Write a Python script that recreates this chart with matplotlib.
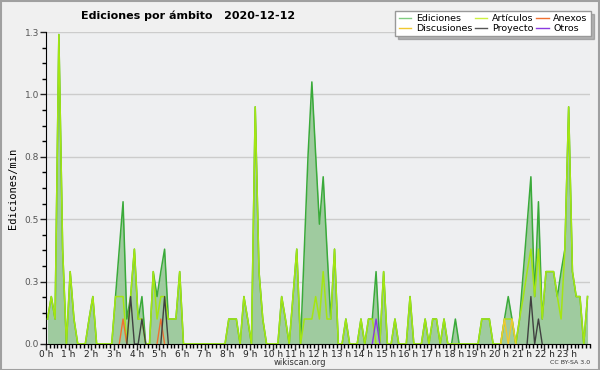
import numpy as np
import matplotlib
matplotlib.use('Agg')
import matplotlib.pyplot as plt
from matplotlib.lines import Line2D
from matplotlib.ticker import MultipleLocator, FuncFormatter

# ediciones por minuto, un punto cada 10 min (144 puntos)
minutos = np.arange(144) * 10 + 4

ediciones = [
    0.10, 0.19, 0.10, 1.24, 0.38, 0.00, 0.29, 0.10, 0.00, 0.00, 0.00, 0.10,
    0.19, 0.00, 0.00, 0.00, 0.00, 0.00, 0.19, 0.38, 0.57, 0.10, 0.19, 0.38,
    0.10, 0.19, 0.00, 0.00, 0.29, 0.19, 0.29, 0.38, 0.10, 0.10, 0.10, 0.29,
    0.00, 0.00, 0.00, 0.00, 0.00, 0.00, 0.00, 0.00, 0.00, 0.00, 0.00, 0.00,
    0.10, 0.10, 0.10, 0.00, 0.19, 0.10, 0.00, 0.95, 0.29, 0.10, 0.00, 0.00,
    0.00, 0.00, 0.19, 0.10, 0.00, 0.19, 0.38, 0.00, 0.38, 0.76, 1.05, 0.76,
    0.48, 0.67, 0.38, 0.10, 0.38, 0.00, 0.00, 0.10, 0.00, 0.00, 0.00, 0.10,
    0.00, 0.10, 0.10, 0.29, 0.00, 0.29, 0.00, 0.00, 0.10, 0.00, 0.00, 0.00,
    0.19, 0.00, 0.00, 0.00, 0.10, 0.00, 0.10, 0.10, 0.00, 0.10, 0.00, 0.00,
    0.10, 0.00, 0.00, 0.00, 0.00, 0.00, 0.00, 0.10, 0.10, 0.10, 0.00, 0.00,
    0.00, 0.10, 0.19, 0.10, 0.00, 0.10, 0.29, 0.48, 0.67, 0.19, 0.57, 0.10,
    0.29, 0.29, 0.29, 0.19, 0.29, 0.38, 0.95, 0.29, 0.19, 0.19, 0.00, 0.19,
]

articulos = [
    0.10, 0.19, 0.10, 1.24, 0.38, 0.00, 0.29, 0.10, 0.00, 0.00, 0.00, 0.10,
    0.19, 0.00, 0.00, 0.00, 0.00, 0.00, 0.19, 0.19, 0.19, 0.00, 0.19, 0.38,
    0.10, 0.10, 0.00, 0.00, 0.29, 0.10, 0.19, 0.19, 0.10, 0.10, 0.10, 0.29,
    0.00, 0.00, 0.00, 0.00, 0.00, 0.00, 0.00, 0.00, 0.00, 0.00, 0.00, 0.00,
    0.10, 0.10, 0.10, 0.00, 0.19, 0.10, 0.00, 0.95, 0.29, 0.10, 0.00, 0.00,
    0.00, 0.00, 0.19, 0.10, 0.00, 0.19, 0.38, 0.00, 0.10, 0.10, 0.10, 0.19,
    0.10, 0.29, 0.10, 0.10, 0.38, 0.00, 0.00, 0.10, 0.00, 0.00, 0.00, 0.10,
    0.00, 0.10, 0.10, 0.00, 0.00, 0.29, 0.00, 0.00, 0.10, 0.00, 0.00, 0.00,
    0.19, 0.00, 0.00, 0.00, 0.10, 0.00, 0.10, 0.10, 0.00, 0.10, 0.00, 0.00,
    0.00, 0.00, 0.00, 0.00, 0.00, 0.00, 0.00, 0.10, 0.10, 0.10, 0.00, 0.00,
    0.00, 0.10, 0.10, 0.10, 0.00, 0.10, 0.19, 0.29, 0.38, 0.19, 0.38, 0.10,
    0.29, 0.29, 0.29, 0.19, 0.10, 0.38, 0.95, 0.29, 0.19, 0.19, 0.00, 0.19,
]

# series pequenas: {indice de 10 min: valor}
anexos = {20: 0.10, 30: 0.10}
discusiones = {121: 0.10, 123: 0.10}
proyecto = {22: 0.19, 25: 0.10, 31: 0.19, 128: 0.19, 130: 0.10}
otros = {87: 0.10}

titulo = 'Ediciones por ámbito   2020-12-12'
etiquetas_h = ['%d h' % h for h in range(24)]

col_fill = '#9fcb9f'
col_ed = '#3aaa3a'
col_art = '#a4e612'
col_anx = '#f07030'
col_disc = '#f0c830'
col_proy = '#404040'
col_otros = '#8a3ae0'


def serie(d):
    v = np.zeros(144)
    for k, val in d.items():
        v[k] = val
    return v


horas = minutos / 60.0

fig = plt.figure(figsize=(6, 3.7), dpi=100, facecolor='#f0f0f0')
ax = fig.add_axes([0.0767, 0.0703, 0.9063, 0.8432])
ax.set_facecolor('#eeeff1')

ax.fill_between(horas, 0, ediciones, color=col_fill, lw=0, zorder=2)
ax.plot(horas, ediciones, color=col_ed, lw=1.1, zorder=3)
ax.plot(horas, articulos, color=col_art, lw=1.1, zorder=4)
for d, c in [(anexos, col_anx), (discusiones, col_disc), (proyecto, col_proy), (otros, col_otros)]:
    v = serie(d)
    ax.plot(horas, np.ma.masked_where(np.convolve(v > 0, [1, 1, 1], 'same') == 0, v),
            color=c, lw=1.0, zorder=5)

ax.set_xlim(0, 24)
ax.set_ylim(0, 1.25)
ax.xaxis.set_minor_locator(MultipleLocator(1 / 6))
ax.set_xticks(range(24))
ax.set_xticklabels(etiquetas_h)
ax.yaxis.set_major_locator(MultipleLocator(0.25))
ax.yaxis.set_minor_locator(MultipleLocator(0.0625))
ax.yaxis.set_major_formatter(FuncFormatter(lambda v, p: '%.1f' % (v + 1e-6)))
ax.grid(axis='y', which='major', color='#cccccc', lw=1.0, zorder=1)
ax.set_axisbelow(True)
for s in ['top', 'right']:
    ax.spines[s].set_visible(False)
ax.spines['left'].set_color('black')
ax.spines['bottom'].set_color('black')
ax.tick_params(axis='both', which='major', length=4, width=1, labelsize=6.5, colors='#222222', pad=0.5)
ax.tick_params(axis='both', which='minor', length=3, width=1)
ax.tick_params(axis='y', labelcolor='#555555', pad=1)

ax.set_ylabel('Ediciones/min', family='DejaVu Sans Mono', fontsize=7.5, labelpad=5)

fig.text(0.313, 0.957, titulo, ha='center', va='center', fontsize=8, fontweight='bold')
fig.text(0.5, 0.021, 'wikiscan.org', ha='center', va='center', fontsize=6, color='#333333')
fig.text(0.983, 0.021, 'CC BY-SA 3.0', ha='right', va='center', fontsize=4.5, color='#333333')

handles = [
    Line2D([], [], color='#80cc80', lw=1),
    Line2D([], [], color=col_disc, lw=1),
    Line2D([], [], color='#ccf040', lw=1),
    Line2D([], [], color='#555555', lw=1),
    Line2D([], [], color=col_anx, lw=1),
    Line2D([], [], color=col_otros, lw=1),
]
nombres = ['Ediciones', 'Discusiones', 'Artículos', 'Proyecto', 'Anexos', 'Otros']
leg = fig.legend(handles, nombres, ncol=3, loc='upper right', bbox_to_anchor=(0.985, 0.97),
                 fontsize=6.8, frameon=True, fancybox=False, shadow={'color': '#777777'},
                 handlelength=1.3, handletextpad=0.5, columnspacing=0.3,
                 labelspacing=0.05, borderpad=0.35, borderaxespad=0)
leg.get_frame().set_edgecolor('#999999')
leg.get_frame().set_linewidth(1)

fig.patches.append(plt.Rectangle((0.001, 0.001), 0.997, 0.997, transform=fig.transFigure,
                                 fill=False, edgecolor='#a0a0a0', lw=1.5))

fig.savefig('out.png', dpi=100, facecolor=fig.get_facecolor())
